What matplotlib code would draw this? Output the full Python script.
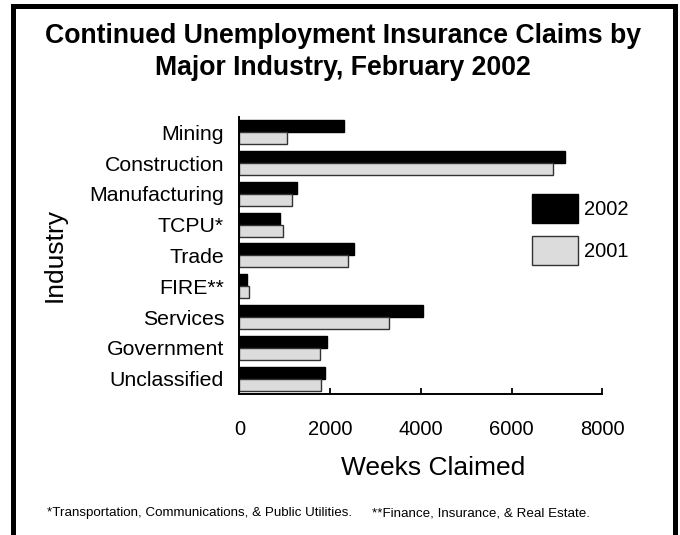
import matplotlib
matplotlib.use("Agg")
import matplotlib.pyplot as plt
from matplotlib.lines import Line2D
import numpy as np

plt.rcParams['font.family'] = ['Liberation Sans', 'DejaVu Sans']

# data
industries = ["Mining", "Construction", "Manufacturing", "TCPU*", "Trade",
              "FIRE**", "Services", "Government", "Unclassified"]
claims_2002 = [2310, 7170, 1280, 900, 2520, 160, 4050, 1930, 1890]
claims_2001 = [1040, 6920, 1160, 970, 2390, 220, 3300, 1780, 1790]
x_ticks = [0, 2000, 4000, 6000, 8000]

fig = plt.figure(figsize=(6.8, 5.35), dpi=100)
ax = fig.add_axes([0.352, 0.2636, 0.534, 0.5177])

y = np.arange(len(industries))
h = 0.39
ax.barh(y - h / 2, claims_2002, height=h, color="black", edgecolor="black",
        linewidth=1, label="2002")
ax.barh(y + h / 2, claims_2001, height=h, color="#dcdcdc", edgecolor="#333333",
        linewidth=1, label="2001")

ax.set_xlim(0, 8000)
ax.set_ylim(len(industries) - 0.5, -0.5)
ax.set_yticks(y)
ax.set_yticklabels(industries, fontsize=15.3)
ax.set_xticks(x_ticks)
ax.set_xticklabels([str(t) for t in x_ticks], fontsize=14.5)
ax.tick_params(axis="y", length=0, pad=11)
ax.tick_params(axis="x", direction="in", length=4.5, width=1.3, pad=19)

for side in ("top", "right"):
    ax.spines[side].set_visible(False)
for side in ("left", "bottom"):
    ax.spines[side].set_linewidth(1.4)

ax.set_xlabel("Weeks Claimed", fontsize=19)
ax.xaxis.set_label_coords(0.533, -0.266)
ax.xaxis.label.set_va("center")
ax.set_ylabel("Industry", fontsize=19)
ax.yaxis.set_label_coords(-0.508, 0.50)
ax.yaxis.label.set_va("center")

ax.legend(loc="upper left", bbox_to_anchor=(0.782, 0.6374),
          bbox_transform=fig.transFigure, frameon=False, fontsize=14.5,
          handlelength=2.29, handleheight=1.82, handletextpad=0.3,
          labelspacing=0.65, borderpad=0, borderaxespad=0)

fig.text(0.504, 0.903,
         "Continued Unemployment Insurance Claims by\nMajor Industry, February 2002",
         fontsize=19.2, fontweight="bold", ha="center", va="center",
         linespacing=1.3)

fig.text(0.069, 0.041, "*Transportation, Communications, & Public Utilities.",
         fontsize=9.6, ha="left", va="center")
fig.text(0.547, 0.041, "**Finance, Insurance, & Real Estate.",
         fontsize=9.6, ha="left", va="center")

# black frame around the chart (open at the bottom)
lw = 3.6
fig.add_artist(Line2D([0.0184, 0.0184], [0.0, 0.9897], color="black",
                      linewidth=lw, transform=fig.transFigure))
fig.add_artist(Line2D([0.9924, 0.9924], [0.0, 0.9897], color="black",
                      linewidth=lw, transform=fig.transFigure))
fig.add_artist(Line2D([0.0184, 0.9924], [0.9897, 0.9897], color="black",
                      linewidth=lw, solid_capstyle="projecting",
                      transform=fig.transFigure))

fig.savefig("out.png", dpi=100)
